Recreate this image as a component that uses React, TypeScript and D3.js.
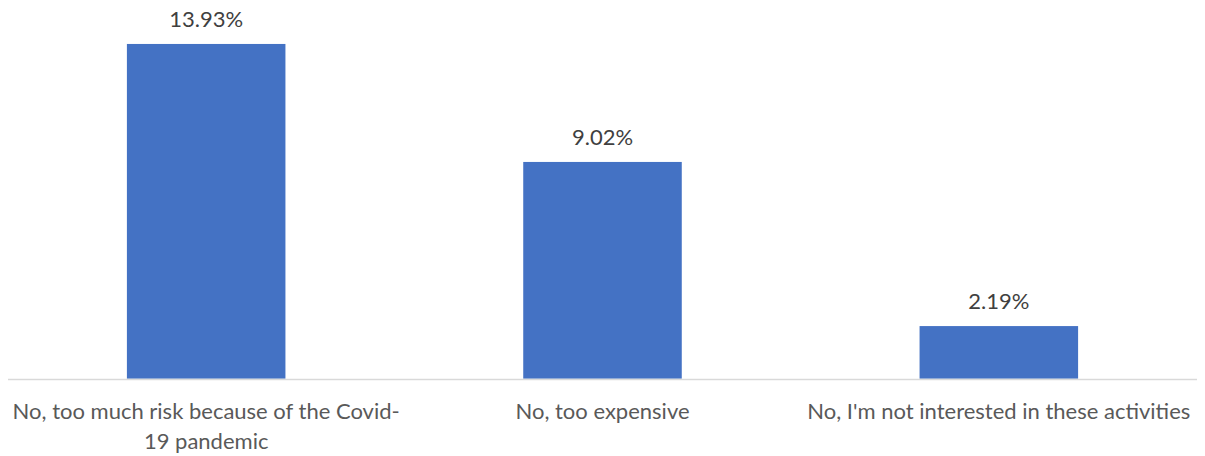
import React from "react";
import * as d3 from "d3";

const categories = [
  "No, too much risk because of the Covid-\n19 pandemic",
  "No, too expensive",
  "No, I'm not interested in these activities",
];
const values = [13.93, 9.02, 2.19];
const valueLabels = ["13.93%", "9.02%", "2.19%"];

const W = 1205;
const H = 456;
const FONT = "Lato, 'Open Sans', sans-serif";

export default function App() {
  const x = d3
    .scaleBand<string>()
    .domain(categories)
    .range([8, 1197])
    .paddingInner(0.6)
    .paddingOuter(0.3);
  const baseY = 378.7;
  const y = d3.scaleLinear().domain([0, 16]).range([baseY, baseY - 16 * 24.03]);

  return (
    <svg
      width={W}
      height={H}
      style={{ position: "absolute", left: 0, top: 0, background: "#fff" }}
      fontFamily={FONT}
    >
      {categories.map((c, i) => (
        <rect
          key={c}
          x={x(c)!}
          y={y(values[i])}
          width={x.bandwidth()}
          height={y(0) - y(values[i])}
          fill="#4472C4"
        />
      ))}
      <line x1={8} x2={1197} y1={baseY + 0.8} y2={baseY + 0.8} stroke="#d9d9d9" strokeWidth={1.5} />
      {categories.map((c, i) => (
        <text
          key={"v" + c}
          x={x(c)! + x.bandwidth() / 2}
          y={y(values[i]) - 17}
          textAnchor="middle"
          fontSize={22}
          fill="#404040"
        >
          {valueLabels[i]}
        </text>
      ))}
      {categories.map((c) => (
        <text
          key={"c" + c}
          x={x(c)! + x.bandwidth() / 2}
          y={418.5}
          textAnchor="middle"
          fontSize={22}
          fill="#595959"
        >
          {c.split("\n").map((line, j) => (
            <tspan key={j} x={x(c)! + x.bandwidth() / 2} dy={j === 0 ? 0 : 30}>
              {line}
            </tspan>
          ))}
        </text>
      ))}
    </svg>
  );
}
